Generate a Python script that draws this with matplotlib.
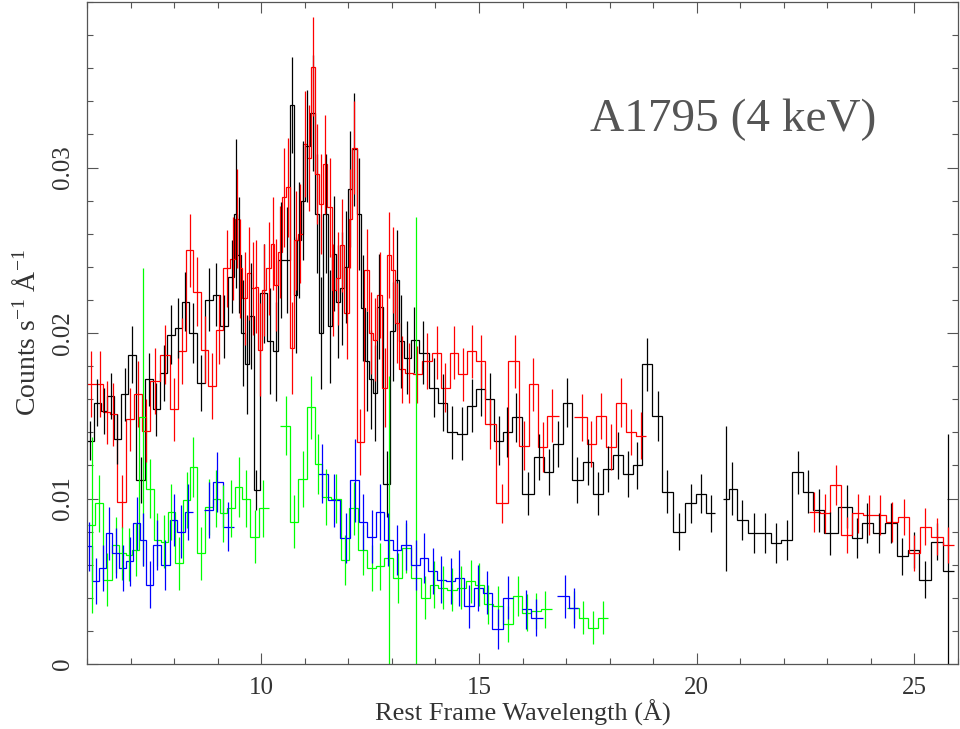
import numpy as np
import matplotlib
matplotlib.use("Agg")
import matplotlib.pyplot as plt
from matplotlib.ticker import MultipleLocator

plt.rcParams['font.family'] = ['Liberation Serif', 'DejaVu Serif']
plt.rcParams['mathtext.fontset'] = 'custom'
plt.rcParams['mathtext.rm'] = 'Liberation Serif'
plt.rcParams['mathtext.it'] = 'Liberation Serif'
plt.rcParams['mathtext.bf'] = 'Liberation Serif'

nan = np.nan

# bin centres (Angstrom), count rates and 1-sigma errors, nan = no data
black_x = [6.08, 6.23, 6.39, 6.54, 6.70, 6.87, 7.03, 7.23, 7.43, 7.59, 7.76, 7.93, 8.10, 8.26,
           8.43, 8.61, 8.80, 8.97, 9.14, 9.33, 9.42, 9.49, 9.58, 9.68, 9.76, 9.89, 10.06, 10.20,
           10.33, 10.46, 10.59, 10.71, 10.79, 10.87, 10.95, 11.06, 11.18, 11.27, 11.37, 11.48,
           11.57, 11.67, 11.77, 11.86, 11.95, 12.05, 12.14, 12.24, 12.34, 12.43, 12.52, 12.61,
           12.70, 12.88, 13.02, 13.12, 13.22, 13.34, 13.52, 13.72, 13.97, 14.17, 14.37, 14.61,
           14.83, 15.04, 15.25, 15.45, 15.65, 15.86, 16.13, 16.39, 16.60, 16.82, 17.03, 17.26,
           17.50, 17.74, 17.97, 18.19, 18.42, 18.64, 18.87, 19.10, 19.32, 19.59, 19.87, 20.10,
           20.33, 20.52, 20.67, 20.81, 21.05, 21.31, 21.57, 21.82, 22.07, 22.32, 22.56, 22.80,
           23.06, 23.44, 23.68, 23.92, 24.19, 24.46, 24.72, 24.98, 25.25, 25.52, 25.78]
black_y = [0.0135, 0.0158, 0.0153, 0.0162, 0.0136, 0.0163, 0.0187, 0.0111, 0.0172, 0.0154, 0.0176,
           0.0199, 0.0203, 0.0219, 0.0200, 0.0170, 0.0220, 0.0223, 0.0204, 0.0234, 0.0272, 0.0247,
           0.0200, 0.0181, 0.0210, 0.0105, 0.0224, 0.0195, 0.0189, 0.0244, 0.0244, 0.0338, 0.0223,
           0.0256, 0.0280, 0.0313, 0.0333, 0.0272, 0.0200, 0.0272, 0.0204, 0.0248, 0.0219, 0.0227,
           0.0240, 0.0287, 0.0311, 0.0272, 0.0215, 0.0183, 0.0172, 0.0164, 0.0216, 0.0109, 0.0201,
           0.0232, 0.0195, 0.0185, 0.0196, 0.0188, 0.0167, 0.0158, 0.0140, 0.0139, 0.0156, 0.0166,
           0.0160, 0.0135, 0.0140, 0.0149, 0.0103, 0.0125, 0.0116, 0.0133, 0.0158, 0.0111, 0.0122,
           0.0103, 0.0118, 0.0126, 0.0115, 0.0120, 0.0181, 0.0150, 0.0104, 0.0080, 0.0097, 0.0103,
           0.0091, nan, 0.0100, 0.0106, 0.0087, 0.0079, 0.0079, 0.0073, 0.0075, 0.0116, 0.0104,
           0.0093, 0.0079, 0.0095, 0.0076, 0.0085, 0.0079, 0.0085, 0.0065, 0.0069, 0.0051, 0.0074,
           0.0056]
black_err = [0.0012, 0.0014, 0.0014, 0.0014, 0.0015, 0.0016, 0.0017, 0.0014, 0.0016, 0.0016,
             0.0017, 0.0018, 0.0018, 0.0018, 0.0018, 0.0017, 0.0019, 0.0019, 0.0019, 0.0022,
             0.0045, 0.0035, 0.0032, 0.0030, 0.0032, 0.0012, 0.0030, 0.0032, 0.0030, 0.0035,
             0.0032, 0.0029, 0.0035, 0.0035, 0.0036, 0.0034, 0.0035, 0.0036, 0.0034, 0.0036,
             0.0034, 0.0035, 0.0034, 0.0034, 0.0034, 0.0035, 0.0034, 0.0034, 0.0032, 0.0030,
             0.0030, 0.0029, 0.0032, 0.0020, 0.0030, 0.0030, 0.0028, 0.0022, 0.0020, 0.0019,
             0.0018, 0.0017, 0.0016, 0.0016, 0.0016, 0.0016, 0.0016, 0.0015, 0.0015, 0.0015,
             0.0013, 0.0014, 0.0014, 0.0014, 0.0015, 0.0014, 0.0014, 0.0013, 0.0014, 0.0014,
             0.0014, 0.0014, 0.0016, 0.0015, 0.0013, 0.0011, 0.0012, 0.0012, 0.0011, nan,
             0.0044, 0.0016, 0.0012, 0.0012, 0.0012, 0.0012, 0.0012, 0.0013, 0.0013, 0.0013,
             0.0013, 0.0013, 0.0012, 0.0012, 0.0012, 0.0012, 0.0011, 0.0011, 0.0011, 0.0011,
             0.0083]

red_x = [6.10, 6.30, 6.45, 6.60, 6.80, 6.99, 7.16, 7.35, 7.55, 7.79, 8.00, 8.19, 8.36, 8.52,
         8.70, 8.87, 9.04, 9.22, 9.36, 9.45, 9.52, 9.62, 9.72, 9.81, 9.89, 9.98, 10.07, 10.17,
         10.26, 10.35, 10.44, 10.53, 10.62, 10.71, 10.80, 10.90, 11.00, 11.10, 11.19, 11.28,
         11.37, 11.47, 11.57, 11.66, 11.76, 11.86, 11.96, 12.05, 12.14, 12.28, 12.44, 12.53,
         12.61, 12.73, 12.84, 12.94, 13.02, 13.12, 13.23, 13.39, 13.58, 13.80, 14.03, 14.23,
         14.43, 14.63, 14.83, 15.04, 15.25, 15.53, 15.82, 16.04, 16.25, 16.46, 16.67, 17.01,
         17.36, 17.58, 17.81, 18.04, 18.26, 18.48, 18.71, 18.95, 22.46, 22.70, 22.95, 23.19,
         23.45, 23.70, 23.95, 24.21, 24.48, 24.75, 25.00, 25.25, 25.51, 25.78]
red_y = [0.0169, 0.0169, 0.0152, 0.0151, 0.0098, 0.0148, 0.0163, 0.0141, 0.0171, 0.0187, 0.0154,
         0.0189, 0.0250, 0.0225, 0.0190, 0.0168, 0.0202, 0.0239, 0.0245, 0.0269, 0.0239, 0.0221,
         0.0236, 0.0227, 0.0228, 0.0190, 0.0226, 0.0239, 0.0254, 0.0229, 0.0249, 0.0282, 0.0288,
         0.0191, 0.0256, 0.0260, 0.0314, 0.0306, 0.0361, 0.0296, 0.0278, 0.0302, 0.0276, 0.0226,
         0.0233, 0.0253, 0.0212, 0.0269, 0.0312, 0.0134, 0.0238, 0.0200, 0.0196, 0.0223, 0.0167,
         0.0247, 0.0238, 0.0206, 0.0178, 0.0176, 0.0175, 0.0183, 0.0188, 0.0167, 0.0188, 0.0175,
         0.0189, 0.0183, 0.0145, 0.0097, 0.0183, 0.0132, 0.0169, 0.0131, 0.0150, nan, 0.0149,
         0.0133, 0.0150, 0.0131, 0.0158, 0.0140, 0.0138, nan, nan, 0.0092, 0.0091, 0.0108, 0.0078,
         0.0091, 0.0090, 0.0090, 0.0086, 0.0089, 0.0067, 0.0083, 0.0077, 0.0072]
red_err = [0.0020, 0.0020, 0.0019, 0.0019, 0.0016, 0.0019, 0.0020, 0.0019, 0.0020, 0.0018,
           0.0019, 0.0020, 0.0022, 0.0021, 0.0020, 0.0020, 0.0021, 0.0023, 0.0025, 0.0030,
           0.0030, 0.0028, 0.0028, 0.0028, 0.0028, 0.0028, 0.0028, 0.0028, 0.0028, 0.0028,
           0.0028, 0.0030, 0.0030, 0.0028, 0.0030, 0.0030, 0.0032, 0.0032, 0.0030, 0.0030,
           0.0030, 0.0030, 0.0030, 0.0028, 0.0028, 0.0028, 0.0028, 0.0030, 0.0028, 0.0020,
           0.0025, 0.0025, 0.0025, 0.0026, 0.0024, 0.0026, 0.0026, 0.0024, 0.0020, 0.0018,
           0.0017, 0.0017, 0.0016, 0.0015, 0.0016, 0.0016, 0.0016, 0.0016, 0.0015, 0.0012,
           0.0016, 0.0015, 0.0016, 0.0015, 0.0016, nan, 0.0014, 0.0014, 0.0014, 0.0014,
           0.0015, 0.0014, 0.0014, nan, nan, 0.0012, 0.0012, 0.0012, 0.0011, 0.0012, 0.0012,
           0.0012, 0.0012, 0.0011, 0.0011, 0.0011, 0.0011, 0.0011]

green_x = [6.11, 6.28, 6.47, 6.66, 6.81, 6.96, 7.12, 7.28, 7.45, 7.61, 7.77, 7.93, 8.11, 8.29,
           8.44, 8.61, 8.80, 8.97, 9.13, 9.30, 9.48, 9.65, 9.85, 10.04, 10.30, 10.57, 10.75,
           10.95, 11.14, 11.31, 11.49, 11.72, 11.93, 12.12, 12.33, 12.54, 12.73, 12.93, 13.13,
           13.32, 13.55, 13.77, 13.97, 14.17, 14.38, 14.59, 14.81, 15.01, 15.21, 15.43, 15.66,
           15.89, 16.10, 16.31, 16.52, 16.85, 17.19, 17.40, 17.62, 17.85]
green_y = [0.0084, 0.0097, 0.0051, 0.0072, 0.0067, 0.0066, 0.0069, 0.0149, 0.0106, 0.0075, 0.0074,
           0.0092, 0.0061, 0.0099, 0.0119, 0.0067, 0.0095, 0.0100, 0.0091, 0.0094, 0.0107, 0.0100,
           0.0077, 0.0094, nan, 0.0144, 0.0086, 0.0112, 0.0155, 0.0121, 0.0101, 0.0100, 0.0063,
           0.0094, 0.0069, 0.0058, 0.0059, 0.0064, 0.0052, 0.0070, 0.0052, 0.0040, 0.0048, 0.0046,
           0.0045, 0.0046, 0.0050, 0.0048, 0.0036, 0.0035, 0.0024, 0.0041, 0.0031, 0.0032, 0.0033,
           nan, 0.0034, 0.0028, 0.0022, 0.0028]
green_err = [0.0053, 0.0017, 0.0016, 0.0017, 0.0016, 0.0016, 0.0016, 0.0090, 0.0018, 0.0016,
             0.0016, 0.0017, 0.0016, 0.0017, 0.0018, 0.0016, 0.0017, 0.0017, 0.0017, 0.0017,
             0.0018, 0.0017, 0.0016, 0.0017, nan, 0.0018, 0.0016, 0.0017, 0.0019, 0.0018,
             0.0017, 0.0015, 0.0015, 0.0016, 0.0015, 0.0014, 0.0014, 0.0110, 0.0015, 0.0015,
             0.0218, 0.0013, 0.0014, 0.0013, 0.0013, 0.0013, 0.0013, 0.0013, 0.0012, 0.0012,
             0.0011, 0.0012, 0.0011, 0.0011, 0.0011, nan, 0.0010, 0.0010, 0.0010, 0.0010]

blue_x = [6.05, 6.20, 6.37, 6.51, 6.66, 6.82, 6.98, 7.14, 7.28, 7.44, 7.61, 7.80, 7.99, 8.16,
          8.32, 8.56, 8.81, 8.99, 9.24, 9.50, 11.20, 11.39, 11.67, 11.95, 12.15, 12.34, 12.54,
          12.73, 12.92, 13.11, 13.33, 13.55, 13.74, 13.94, 14.14, 14.35, 14.55, 14.77, 14.98,
          15.19, 15.43, 15.67, 15.89, 16.09, 16.30, 16.62, 16.97, 17.18]
blue_y = [0.0071, 0.0050, 0.0058, 0.0079, 0.0067, 0.0058, 0.0062, 0.0085, 0.0075, 0.0048, 0.0072,
          0.0060, 0.0087, 0.0080, 0.0092, nan, 0.0093, 0.0110, 0.0083, nan, nan, 0.0115, 0.0099,
          0.0076, 0.0111, 0.0086, 0.0077, 0.0092, 0.0075, 0.0069, 0.0072, 0.0060, 0.0064, 0.0056,
          0.0051, 0.0050, 0.0052, 0.0035, 0.0046, 0.0043, 0.0021, 0.0040, nan, 0.0033, 0.0028, nan,
          0.0041, 0.0034]
blue_err = [0.0015, 0.0014, 0.0014, 0.0016, 0.0015, 0.0014, 0.0015, 0.0016, 0.0016, 0.0014,
            0.0015, 0.0015, 0.0016, 0.0016, 0.0017, nan, 0.0017, 0.0018, 0.0015, nan, nan,
            0.0018, 0.0016, 0.0015, 0.0025, 0.0017, 0.0016, 0.0017, 0.0016, 0.0015, 0.0015,
            0.0015, 0.0015, 0.0014, 0.0014, 0.0014, 0.0017, 0.0013, 0.0014, 0.0013, 0.0012,
            0.0013, nan, 0.0012, 0.0011, nan, 0.0013, 0.0012]

series = [
    (black_x, black_y, black_err, "#000000"),
    (red_x, red_y, red_err, "#ff0000"),
    (green_x, green_y, green_err, "#00ff00"),
    (blue_x, blue_y, blue_err, "#0000ff"),
]


def draw_spectrum(ax, x, y, err, color):
    x = np.asarray(x)
    y = np.asarray(y, dtype=float)
    err = np.asarray(err, dtype=float)
    mid = (x[:-1] + x[1:]) / 2
    edges = np.concatenate([[2 * x[0] - mid[0]], mid, [2 * x[-1] - mid[-1]]])
    ok = np.isfinite(y)
    i = 0
    while i < len(y):
        if not ok[i]:
            i += 1
            continue
        j = i
        while j < len(y) and ok[j]:
            j += 1
        ax.stairs(y[i:j], edges[i:j + 1], color=color, lw=0.9, baseline=None)
        i = j
    ax.errorbar(x[ok], y[ok], yerr=err[ok], fmt="none", ecolor=color,
                elinewidth=0.9, capsize=0)


fig = plt.figure(figsize=(9.6, 7.29), dpi=100)
ax = fig.add_axes([87 / 960, 65 / 729, 871 / 960, 662 / 729])

for x, y, e, c in series:
    draw_spectrum(ax, x, y, e, c)

ax.set_xlim(6, 26)
ax.set_ylim(0, 0.04)

ax.xaxis.set_major_locator(MultipleLocator(5))
ax.xaxis.set_minor_locator(MultipleLocator(1))
ax.set_yticks([0, 0.01, 0.02, 0.03], ["0", "0.01", "0.02", "0.03"])
ax.yaxis.set_minor_locator(MultipleLocator(0.002))
for lab in ax.get_yticklabels():
    lab.set_rotation(90)
    lab.set_va("center")

ax.tick_params(which="both", direction="in", top=True, right=True,
               color="#555555", labelcolor="#333333", labelsize=18)
ax.tick_params(which="major", length=8, width=0.8, pad=9)
ax.tick_params(which="minor", length=4, width=0.8)
for s in ax.spines.values():
    s.set_color("#555555")
    s.set_linewidth(0.9)

# x label placed by hand so that it stays inside the figure
fig.text((87 + 958) / 2 / 960, 8 / 729, "Rest Frame Wavelength (Å)", fontsize=19,
         color="#333333", ha="center", va="baseline")
ax.set_ylabel("Counts s$^{-1}$ Å$^{-1}$", fontsize=20, color="#333333", labelpad=8)

ax.text(0.5775, 0.822, "A1795 (4 keV)", transform=ax.transAxes, fontsize=34,
        color="#555555", ha="left", va="center")

fig.savefig("out.png", dpi=100)
